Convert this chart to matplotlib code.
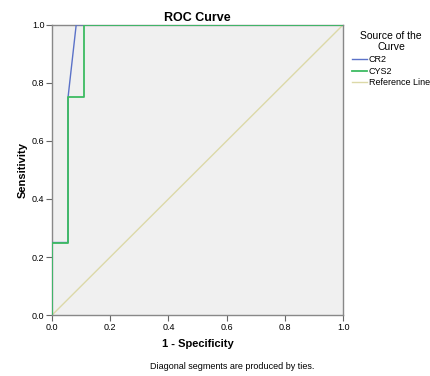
import matplotlib
matplotlib.use("Agg")
import matplotlib.pyplot as plt

plt.rcParams['font.family'] = ['Liberation Sans', 'DejaVu Sans']

# ROC points (1 - specificity, sensitivity)
cr2_fpr = [0.0, 0.0, 0.055, 0.055, 0.083, 1.0]
cr2_tpr = [0.0, 0.25, 0.25, 0.75, 1.0, 1.0]
cys2_fpr = [0.0, 0.0, 0.055, 0.055, 0.11, 0.11, 1.0]
cys2_tpr = [0.0, 0.25, 0.25, 0.75, 0.75, 1.0, 1.0]
ref_x = [0.0, 1.0]
ref_y = [0.0, 1.0]

ticks = [0.0, 0.2, 0.4, 0.6, 0.8, 1.0]
tick_labels = ['0.0', '0.2', '0.4', '0.6', '0.8', '1.0']

fig = plt.figure(figsize=(4.3, 3.76), dpi=100)
ax = fig.add_axes([0.121, 0.162, 0.677, 0.772])
ax.set_facecolor('#f0f0f0')

ax.plot(ref_x, ref_y, color='#dcd9a8', lw=1.0, label='Reference Line', zorder=2)
ax.plot(cr2_fpr, cr2_tpr, color='#5b72c8', lw=1.0, label='CR2', zorder=3)
ax.plot(cys2_fpr, cys2_tpr, color='#3dbb62', lw=1.3, label='CYS2', zorder=4)

ax.set_xlim(0, 1)
ax.set_ylim(0, 1)
ax.set_xticks(ticks)
ax.set_xticklabels(tick_labels)
ax.set_yticks(ticks)
ax.set_yticklabels(tick_labels)
ax.tick_params(labelsize=6.5, length=4, width=0.8, color='#666666', pad=1.5)
for s in ax.spines.values():
    s.set_color('#888888')
    s.set_linewidth(1.0)

ax.set_title('ROC Curve', fontsize=9, fontweight='bold', pad=3)
ax.set_xlabel('1 - Specificity', fontsize=8, fontweight='bold', labelpad=5)
ax.set_ylabel('Sensitivity', fontsize=8, fontweight='bold')
ax.yaxis.set_label_coords(-0.085, 0.5)

handles, labels = ax.get_legend_handles_labels()
order = [1, 2, 0]
leg = fig.legend([handles[i] for i in order], [labels[i] for i in order],
                 title='Source of the\nCurve', loc='upper left',
                 bbox_to_anchor=(0.805, 0.935), frameon=False,
                 fontsize=6.5, title_fontsize=7.5, handlelength=1.6,
                 handletextpad=0.2, labelspacing=0.3, borderpad=0.2)
leg._legend_box.align = 'center'
leg.get_title().set_multialignment('center')

fig.text(0.54, 0.024, 'Diagonal segments are produced by ties.',
         fontsize=6.5, ha='center', va='center')

fig.savefig('out.png', dpi=100)
